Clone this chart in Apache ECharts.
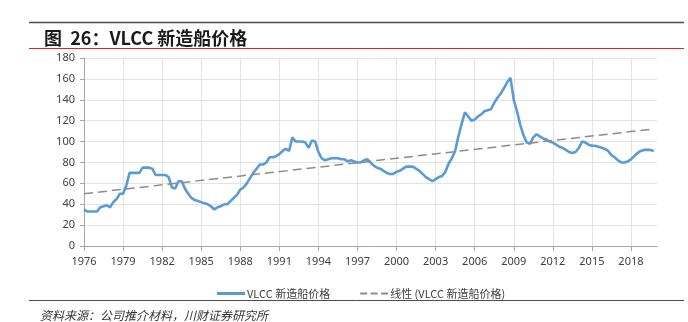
<!DOCTYPE html>
<html>
<head>
<meta charset="utf-8">
<script src="https://cdn.jsdelivr.net/npm/echarts@6/dist/echarts.min.js"></script>
<style>
html,body{margin:0;padding:0;background:#fff;}
#c{width:688px;height:322px;}
</style>
</head>
<body>
<div id="c"></div>
<script>
// Quarterly VLCC newbuilding price (USD mn), 1976Q1 .. 2019Q4
var years = [1976,1977,1978,1979,1980,1981,1982,1983,1984,1985,1986,1987,1988,1989,1990,1991,1992,1993,1994,1995,1996,1997,1998,1999,2000,2001,2002,2003,2004,2005,2006,2007,2008,2009,2010,2011,2012,2013,2014,2015,2016,2017,2018,2019,2020];
var quarters = ['Q1','Q2','Q3','Q4'];
var price = [
  35,33,33,33,   33,37,38,39,   37,42,45,50,   50,58,70,70,
  70,70,75,75,   75,74,68,68,   68,68,66,56,   55,62,62,55,
  50,46,44,43,   42,41,40,38,   35,37,38,40,   40,43,46,49,
  54,56,60,65,   70,74,78,78,   80,85,85,86,   88,91,93,91,
  104,100,100,100, 99,94,101,100, 90,84,82,83, 84,84,84,83,
  83,81,82,81,   80,80,82,83,   80,77,75,74,   72,70,69,69,
  71,72,74,76,   76,76,74,72,   69,66,64,62,   64,66,67,71,
  79,84,91,105,  117,128,124,120, 121,124,126,129, 130,131,137,142,
  146,151,157,161, 140,129,116,106, 99,98,104,107, 105,103,102,100,
  99,97,95,94,   92,90,89,90,   94,100,99,97,   96,96,95,94,
  93,91,87,85,   82,80,80,81,   83,86,89,91,   92,92,92,91
];
var trendStart = 50;
var trendEnd = 112;
var yTicks = {min: 0, max: 180, interval: 20};
var seriesName = 'VLCC 新造船价格';
var trendName = '线性 (VLCC 新造船价格)';

var categories = [];
years.forEach(function (y) {
  quarters.forEach(function (q) {
    if (y < 2020 || q === 'Q1') categories.push(y + q);
  });
});
var trendData = [[categories[0], trendStart], [categories[price.length - 1], trendEnd]];

var chart = echarts.init(document.getElementById('c'), null, {renderer: 'canvas'});
var fontFam = '"Noto Sans", "Noto Sans CJK SC", sans-serif';
chart.setOption({
  animation: false,
  backgroundColor: '#ffffff',
  title: {
    text: '图  26：VLCC 新造船价格',
    left: 39, top: 24,
    textStyle: {fontFamily: '"Noto Sans CJK SC", sans-serif', fontSize: 18, fontWeight: 'bold', color: '#1a1a1a'}
  },
  legend: {
    left: 212, top: 283,
    itemGap: 30,
    itemWidth: 28, itemHeight: 3,
    textStyle: {fontFamily: '"Noto Sans CJK SC", sans-serif', fontSize: 11, color: '#404040', padding: [0,0,0,-3]},
    data: [
      {name: seriesName, icon: 'rect'},
      {name: trendName, icon: 'path://M0,0h7v2h-7z M10.5,0h7v2h-7z M21,0h7v2h-7z'}
    ]
  },
  grid: {left: 84, right: 31, top: 58, bottom: 76, containLabel: false},
  xAxis: {
    type: 'category',
    data: categories,
    boundaryGap: false,
    axisLine: {lineStyle: {color: '#a6a6a6', width: 1}},
    axisTick: {show: true, interval: 11, length: 5, lineStyle: {color: '#a6a6a6'}},
    axisLabel: {
      interval: 11, margin: 10, color: '#404040', fontSize: 11, fontFamily: fontFam,
      formatter: function (v) { return v.slice(0, 4); }
    },
    splitLine: {show: true, interval: 11, lineStyle: {color: '#e3e3e3', width: 1}}
  },
  yAxis: {
    type: 'value',
    min: yTicks.min, max: yTicks.max, interval: yTicks.interval,
    axisLine: {show: true, lineStyle: {color: '#a6a6a6', width: 1}},
    axisTick: {show: true, length: 4, lineStyle: {color: '#a6a6a6'}},
    axisLabel: {margin: 9, color: '#404040', fontSize: 11, fontFamily: fontFam},
    splitLine: {show: true, lineStyle: {color: '#e3e3e3', width: 1}}
  },
  series: [
    {
      name: seriesName, type: 'line', data: price,
      showSymbol: false, symbol: 'none',
      lineStyle: {color: '#5b9bd5', width: 2.6},
      itemStyle: {color: '#5b9bd5'},
      z: 3
    },
    {
      name: trendName, type: 'line', data: trendData,
      showSymbol: false, symbol: 'none',
      lineStyle: {color: '#8c8c8c', width: 1.5, type: [9, 5]},
      itemStyle: {color: '#8c8c8c'},
      z: 4
    }
  ],
  graphic: [
    {type: 'line', shape: {x1: 29, y1: 22.5, x2: 684, y2: 22.5}, style: {stroke: '#4d4d4d', lineWidth: 1.5}},
    {type: 'line', shape: {x1: 29, y1: 48.5, x2: 684, y2: 48.5}, style: {stroke: '#d9262b', lineWidth: 1.2}},
    {type: 'line', shape: {x1: 29, y1: 300.5, x2: 684, y2: 300.5}, style: {stroke: '#4d4d4d', lineWidth: 1}},
    {type: 'text', left: 40, top: 309, style: {text: '资料来源：公司推介材料，川财证券研究所', fill: '#333333', font: 'italic 12px "Noto Sans CJK SC", sans-serif'}}
  ]
});
</script>
</body>
</html>
